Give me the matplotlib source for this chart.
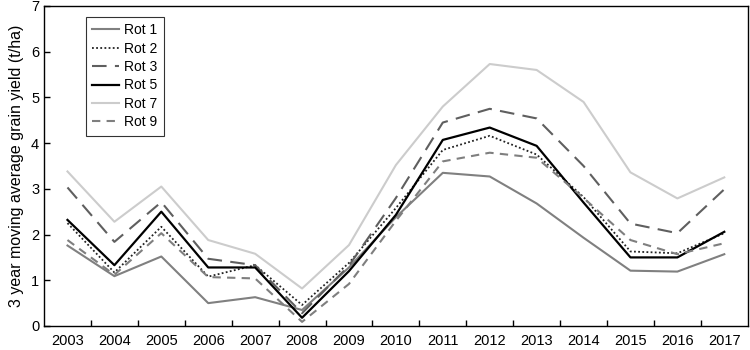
import numpy as np
import matplotlib.pyplot as plt

plt.rcParams['font.family'] = ['Liberation Sans', 'DejaVu Sans']

years = ['2003', '2004', '2005', '2006', '2007', '2008', '2009', '2010',
         '2011', '2012', '2013', '2014', '2015', '2016', '2017']

rot1 = [1.76, 1.09, 1.52, 0.50, 0.63, 0.35, 1.28, 2.38, 3.35, 3.27, 2.68, 1.93, 1.21, 1.19, 1.57]
rot2 = [2.25, 1.17, 2.17, 1.08, 1.33, 0.46, 1.38, 2.58, 3.85, 4.16, 3.75, 2.82, 1.63, 1.59, 2.03]
rot3 = [3.03, 1.84, 2.71, 1.47, 1.33, 0.28, 1.32, 2.80, 4.45, 4.75, 4.54, 3.50, 2.24, 2.03, 2.99]
rot5 = [2.32, 1.33, 2.50, 1.28, 1.28, 0.18, 1.20, 2.43, 4.07, 4.34, 3.94, 2.70, 1.50, 1.50, 2.06]
rot7 = [3.38, 2.28, 3.05, 1.88, 1.58, 0.82, 1.77, 3.52, 4.80, 5.73, 5.60, 4.90, 3.36, 2.79, 3.25]
rot9 = [1.88, 1.12, 2.03, 1.07, 1.04, 0.09, 0.92, 2.30, 3.60, 3.79, 3.68, 2.80, 1.88, 1.57, 1.81]

x = np.arange(len(years))

fig = plt.figure(figsize=(7.5, 3.5), dpi=100)
ax = fig.add_axes([0.0587, 0.0686, 0.9383, 0.9144])

ax.plot(x, rot1, color='#808080', lw=1.5, ls='-', label='Rot 1')
ax.plot(x, rot2, color='#222222', lw=1.3, ls=(0, (1, 1.3)), label='Rot 2')
ax.plot(x, rot3, color='#5f5f5f', lw=1.5, ls=(0, (7, 4)), label='Rot 3')
ax.plot(x, rot5, color='black', lw=1.6, ls='-', label='Rot 5')
ax.plot(x, rot7, color='#cccccc', lw=1.5, ls='-', label='Rot 7')
ax.plot(x, rot9, color='#7f7f7f', lw=1.5, ls=(0, (4, 3)), label='Rot 9')

ax.set_xlim(-0.5, len(years) - 0.5)
ax.set_ylim(0, 7)
ax.set_xticks(x)
ax.set_xticklabels(years)
ax.set_xticks(x[:-1] + 0.5, minor=True)
ax.tick_params(axis='x', which='major', length=0, pad=6, labelsize=10.5)
ax.tick_params(axis='x', which='minor', direction='in', length=4, width=1)
ax.tick_params(axis='y', direction='in', length=4, width=1, labelsize=10.5)
ax.set_yticks(range(0, 8))
for s in ax.spines.values():
    s.set_linewidth(1)

ax.set_ylabel('3 year moving average grain yield (t/ha)', fontsize=11.5, labelpad=5)

leg = ax.legend(loc='upper left', bbox_to_anchor=(0.06, 0.966), fontsize=10,
                frameon=True, fancybox=False, edgecolor='black',
                handlelength=1.9, labelspacing=0.32, borderpad=0.45,
                handletextpad=0.4, borderaxespad=0)
leg.get_frame().set_linewidth(0.8)

fig.savefig('out.png', dpi=100)
